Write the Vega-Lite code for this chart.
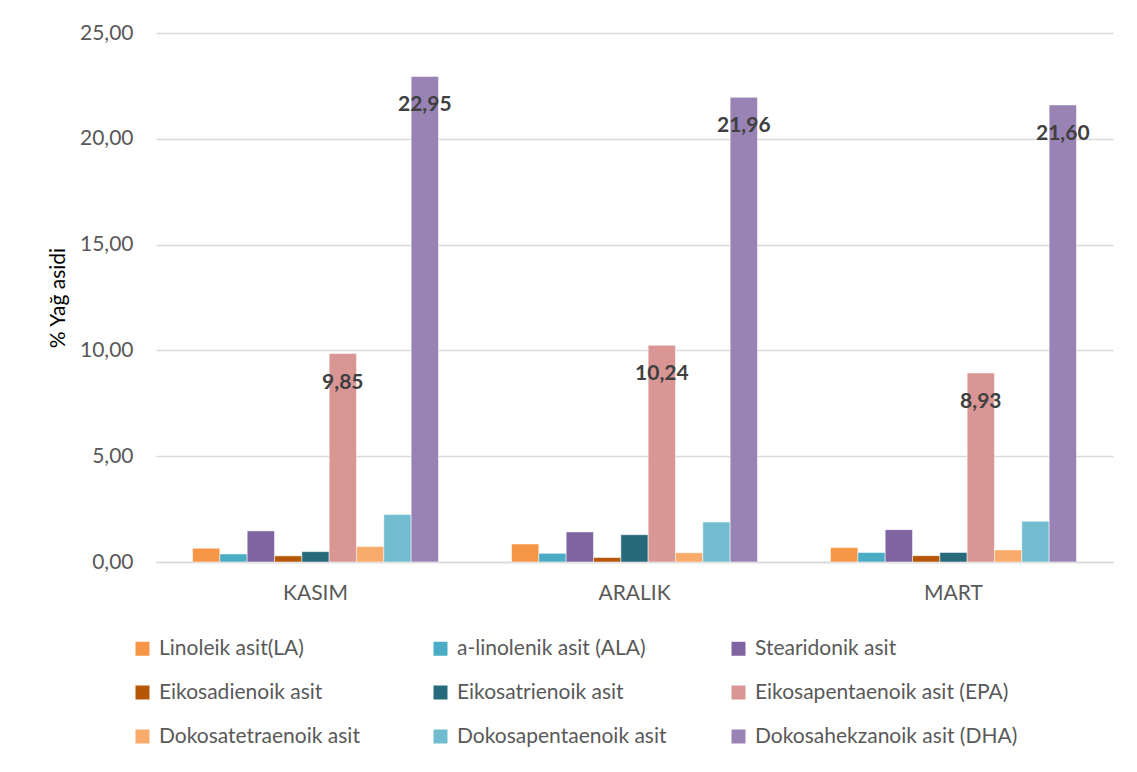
{
  "$schema": "https://vega.github.io/schema/vega-lite/v6.json",
  "autosize": {"type": "none"},
  "padding": {"left": 156, "top": 33, "right": 24, "bottom": 210},
  "width": 957,
  "height": 529,
  "background": "white",
  "config": {
    "locale": {"number": {"decimal": ",", "thousands": ".", "grouping": [3], "currency": ["", " TL"]}},
    "font": "Lato",
    "view": {"stroke": null}
  },
  "data": {
    "values": [
      {"ay": "KASIM", "asit": "Linoleik asit(LA)", "deger": 0.65},
      {"ay": "KASIM", "asit": "a-linolenik asit (ALA)", "deger": 0.38},
      {"ay": "KASIM", "asit": "Stearidonik asit", "deger": 1.47},
      {"ay": "KASIM", "asit": "Eikosadienoik asit", "deger": 0.29},
      {"ay": "KASIM", "asit": "Eikosatrienoik asit", "deger": 0.49},
      {"ay": "KASIM", "asit": "Eikosapentaenoik asit (EPA)", "deger": 9.85},
      {"ay": "KASIM", "asit": "Dokosatetraenoik asit", "deger": 0.73},
      {"ay": "KASIM", "asit": "Dokosapentaenoik asit", "deger": 2.24},
      {"ay": "KASIM", "asit": "Dokosahekzanoik asit (DHA)", "deger": 22.95},
      {"ay": "ARALIK", "asit": "Linoleik asit(LA)", "deger": 0.85},
      {"ay": "ARALIK", "asit": "a-linolenik asit (ALA)", "deger": 0.41},
      {"ay": "ARALIK", "asit": "Stearidonik asit", "deger": 1.42},
      {"ay": "ARALIK", "asit": "Eikosadienoik asit", "deger": 0.21},
      {"ay": "ARALIK", "asit": "Eikosatrienoik asit", "deger": 1.29},
      {"ay": "ARALIK", "asit": "Eikosapentaenoik asit (EPA)", "deger": 10.24},
      {"ay": "ARALIK", "asit": "Dokosatetraenoik asit", "deger": 0.44},
      {"ay": "ARALIK", "asit": "Dokosapentaenoik asit", "deger": 1.89},
      {"ay": "ARALIK", "asit": "Dokosahekzanoik asit (DHA)", "deger": 21.96},
      {"ay": "MART", "asit": "Linoleik asit(LA)", "deger": 0.68},
      {"ay": "MART", "asit": "a-linolenik asit (ALA)", "deger": 0.45},
      {"ay": "MART", "asit": "Stearidonik asit", "deger": 1.53},
      {"ay": "MART", "asit": "Eikosadienoik asit", "deger": 0.30},
      {"ay": "MART", "asit": "Eikosatrienoik asit", "deger": 0.45},
      {"ay": "MART", "asit": "Eikosapentaenoik asit (EPA)", "deger": 8.93},
      {"ay": "MART", "asit": "Dokosatetraenoik asit", "deger": 0.57},
      {"ay": "MART", "asit": "Dokosapentaenoik asit", "deger": 1.92},
      {"ay": "MART", "asit": "Dokosahekzanoik asit (DHA)", "deger": 21.60}
    ]
  },
  "encoding": {
    "x": {
      "field": "ay",
      "type": "nominal",
      "sort": ["KASIM", "ARALIK", "MART"],
      "scale": {"paddingInner": 0.229, "paddingOuter": 0.1145},
      "axis": {
        "title": null,
        "labelAngle": 0,
        "labelFontSize": 21,
        "labelColor": "#595959",
        "labelPadding": 20,
        "ticks": false,
        "domainColor": "#D9D9D9",
        "domainWidth": 1.5
      }
    },
    "xOffset": {
      "field": "asit",
      "type": "nominal",
      "scale": {
        "domain": ["Linoleik asit(LA)", "a-linolenik asit (ALA)", "Stearidonik asit", "Eikosadienoik asit", "Eikosatrienoik asit", "Eikosapentaenoik asit (EPA)", "Dokosatetraenoik asit", "Dokosapentaenoik asit", "Dokosahekzanoik asit (DHA)"],
        "paddingInner": 0,
        "paddingOuter": 0
      }
    },
    "y": {
      "field": "deger",
      "type": "quantitative",
      "scale": {"domain": [0, 25]},
      "axis": {
        "title": "% Yağ asidi",
        "titleFontSize": 21,
        "titleFontWeight": "normal",
        "titleColor": "#000000",
        "titlePadding": 11,
        "values": [0, 5, 10, 15, 20, 25],
        "format": ".2f",
        "labelFontSize": 21,
        "labelColor": "#595959",
        "labelPadding": 23,
        "ticks": false,
        "domain": false,
        "gridColor": "#D9D9D9",
        "gridWidth": 1.5
      }
    }
  },
  "layer": [
    {
      "mark": {"type": "bar", "stroke": "white", "strokeWidth": 1, "strokeOpacity": 0.5},
      "encoding": {
        "color": {
          "field": "asit",
          "type": "nominal",
          "scale": {
            "domain": ["Linoleik asit(LA)", "a-linolenik asit (ALA)", "Stearidonik asit", "Eikosadienoik asit", "Eikosatrienoik asit", "Eikosapentaenoik asit (EPA)", "Dokosatetraenoik asit", "Dokosapentaenoik asit", "Dokosahekzanoik asit (DHA)"],
            "range": ["#F79646", "#4BACC6", "#8064A2", "#B65708", "#276A7C", "#D99694", "#F9AB6B", "#71BCCF", "#9983B5"]
          },
          "legend": {
            "title": null,
            "orient": "none",
            "legendX": -24,
            "legendY": 605,
            "direction": "horizontal",
            "columns": 3,
            "gridAlign": "all",
            "columnPadding": 8,
            "rowPadding": 22,
            "symbolType": "square",
            "symbolSize": 196,
            "symbolStrokeWidth": 0,
            "labelFontSize": 21,
            "labelColor": "#595959",
            "labelOffset": 6,
            "labelLimit": 400
          }
        }
      }
    },
    {
      "transform": [{"filter": "datum.deger > 5"}],
      "mark": {"type": "text", "fontWeight": "bold", "fontSize": 21, "color": "#404040", "baseline": "middle", "dy": 29},
      "encoding": {
        "text": {"field": "deger", "type": "quantitative", "format": ".2f"}
      }
    }
  ]
}
